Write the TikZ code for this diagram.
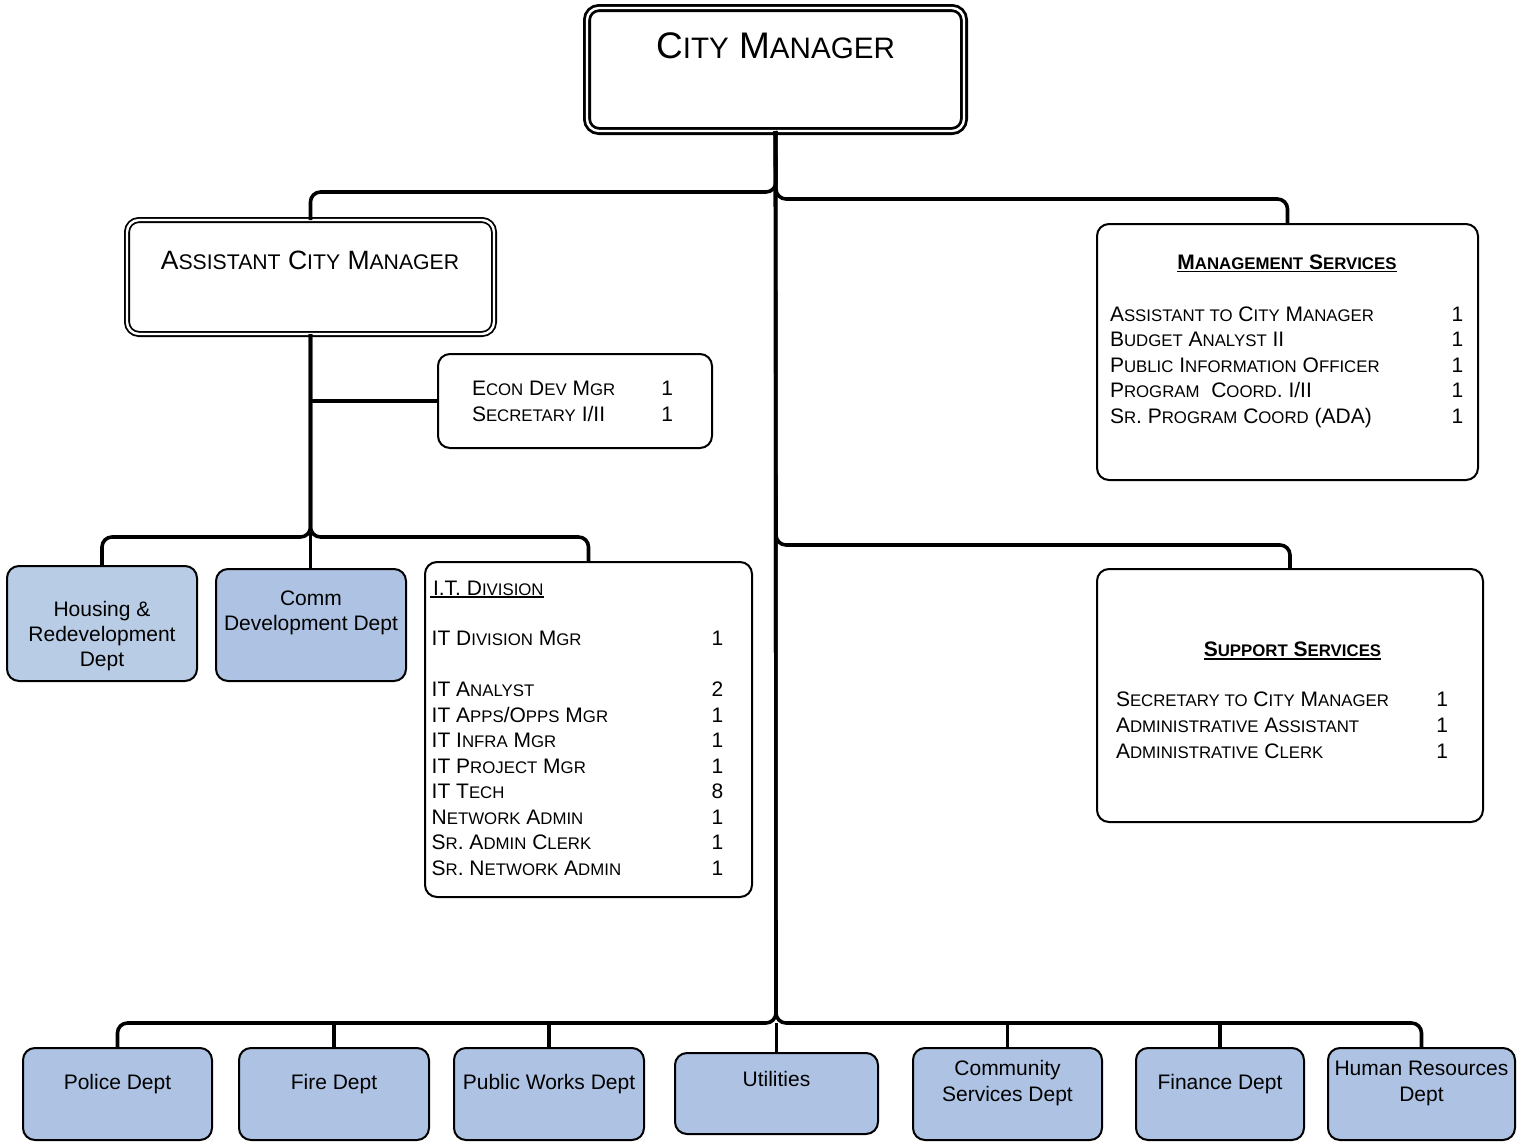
\documentclass[tikz,border=0pt]{standalone}
\usepackage{fontspec}
\setmainfont{Liberation Sans}
\usetikzlibrary{calc}

% fake small caps: lowercase letters set as smaller capitals
\makeatletter
\newcommand\smc[1]{{\fontsize{\fpeval{0.8*\f@size}}{\f@baselineskip}\selectfont\MakeUppercase{#1}}}
\makeatother
% underline with a firm rule
\newcommand\ul[1]{\setbox0\hbox{#1}\rlap{\rule[-2.8pt]{\wd0}{1.6pt}}\box0}
% two-column staff list: title left, count right
\newcommand\roster[2]{\begin{tabular*}{#1}[t]{@{}l@{\extracolsep{\fill}}r@{}}#2\end{tabular*}}
% centred multi-line label, baseline on its first line
\newcommand\lines[1]{\begin{tabular}[t]{@{}c@{}}#1\end{tabular}}

\definecolor{deptblue}{HTML}{AEC3E3}
\definecolor{deptlight}{HTML}{B9CCE5}

\tikzset{
  conn/.style={line width=3.6pt, rounded corners=10pt},
  box/.style={draw, line width=2pt, rounded corners=12pt, inner sep=0pt, outer sep=0pt, fill=white},
  dept/.style={box, fill=deptblue},
  headbox/.style={draw, double, line width=2.8pt, double distance=2.4pt, rounded corners=12pt, inner sep=0pt, outer sep=0pt},
  subheadbox/.style={draw, double, line width=1.8pt, double distance=2.4pt, rounded corners=12pt, inner sep=0pt, outer sep=0pt},
  txt/.style={inner sep=0pt, outer sep=0pt, font=\fontsize{21}{25.5}\selectfont},
}

\begin{document}
\begin{tikzpicture}[x=1pt, y=-1pt]
\useasboundingbox (0,0) rectangle (1527,1143);

% ---- executive boxes
\node[headbox, minimum width=377, minimum height=123] (cm) at (775.5,69.5) {};
\node[txt, font=\fontsize{37}{41}\selectfont, anchor=base] (cm-t) at (775.5,58) {C\smc{ity} M\smc{anager}};

\node[subheadbox, minimum width=367, minimum height=114] (acm) at (310.5,277) {};
\node[txt, font=\fontsize{26.5}{30}\selectfont, anchor=base] (acm-t) at (310,269.5) {A\smc{ssistant} C\smc{ity} M\smc{anager}};

% ---- economic development staff
\node[box, minimum width=274, minimum height=94] (econ) at (575,401) {};
\node[txt, font=\fontsize{21}{26.7}\selectfont, anchor=base west] (econ-t) at (472,395)
  {\roster{201pt}{E\smc{con} D\smc{ev} M\smc{gr} & 1\\ S\smc{ecretary} I/II & 1}};

% ---- management services
\node[box, minimum width=381, minimum height=256] (mgmt) at (1287.5,352) {};
\node[txt, anchor=base] (mgmt-h) at (1287,269.3) {\ul{\textbf{M\smc{anagement} S\smc{ervices}}}};
\node[txt, font=\fontsize{21}{25.6}\selectfont, anchor=base west] (mgmt-t) at (1110,321)
  {\roster{353.3pt}{%
    A\smc{ssistant to} C\smc{ity} M\smc{anager} & 1\\
    B\smc{udget} A\smc{nalyst} II & 1\\
    P\smc{ublic} I\smc{nformation} O\smc{fficer} & 1\\
    P\smc{rogram}\ \ C\smc{oord}. I/II & 1\\
    S\smc{r}. P\smc{rogram} C\smc{oord} (ADA) & 1}};

% ---- support services
\node[box, minimum width=386, minimum height=253] (supp) at (1290,695.5) {};
\node[txt, anchor=base] (supp-h) at (1292.5,656.7) {\ul{\textbf{S\smc{upport} S\smc{ervices}}}};
\node[txt, font=\fontsize{21}{26.1}\selectfont, anchor=base west] (supp-t) at (1116,706.7)
  {\roster{332pt}{%
    S\smc{ecretary to} C\smc{ity} M\smc{anager} & 1\\
    A\smc{dministrative} A\smc{ssistant} & 1\\
    A\smc{dministrative} C\smc{lerk} & 1}};

% ---- departments under the assistant city manager
\node[box, fill=deptlight, minimum width=190, minimum height=115] (housing) at (102,623.5) {};
\node[txt, font=\fontsize{21}{25}\selectfont, anchor=base] (housing-t) at (102,616.7)
  {\lines{Housing \&\\Redevelopment\\Dept}};

\node[dept, minimum width=190, minimum height=112] (comm) at (311,625) {};
\node[txt, font=\fontsize{21}{24.5}\selectfont, anchor=base] (comm-t) at (311,605.7)
  {\lines{Comm\\Development Dept}};

\node[box, minimum width=327, minimum height=335] (it) at (588.5,729.5) {};
\node[txt, anchor=base west] (it-h) at (430,595) {\ul{\hspace{3pt}I.T. D\smc{ivision}}};
\node[txt, font=\fontsize{21}{25.5}\selectfont, anchor=base west] (it-t) at (431.7,645.7)
  {\roster{291.6pt}{%
    IT D\smc{ivision} M\smc{gr} & 1\\
    & \\
    IT A\smc{nalyst} & 2\\
    IT A\smc{pps}/O\smc{pps} M\smc{gr} & 1\\
    IT I\smc{nfra} M\smc{gr} & 1\\
    IT P\smc{roject} M\smc{gr} & 1\\
    IT T\smc{ech} & 8\\
    N\smc{etwork} A\smc{dmin} & 1\\
    S\smc{r}. A\smc{dmin} C\smc{lerk} & 1\\
    S\smc{r}. N\smc{etwork} A\smc{dmin} & 1}};

% ---- operating departments
\node[dept, minimum width=189, minimum height=92] (police) at (117.5,1094) {};
\node[txt, anchor=base] (police-t) at (117.5,1089) {Police Dept};
\node[dept, minimum width=190, minimum height=92] (fire) at (334,1094) {};
\node[txt, anchor=base] (fire-t) at (334,1089) {Fire Dept};
\node[dept, minimum width=190, minimum height=92] (pw) at (549,1094) {};
\node[txt, anchor=base] (pw-t) at (549,1089) {Public Works Dept};
\node[dept, minimum width=203, minimum height=81] (util) at (776.5,1093.5) {};
\node[txt, anchor=base] (util-t) at (776.5,1086.7) {Utilities};
\node[dept, minimum width=189, minimum height=92] (csd) at (1007.5,1094) {};
\node[txt, font=\fontsize{21}{26}\selectfont, anchor=base] (csd-t) at (1007.5,1075.7)
  {\lines{Community\\Services Dept}};
\node[dept, minimum width=168, minimum height=92] (fin) at (1220,1094) {};
\node[txt, anchor=base] (fin-t) at (1220,1089) {Finance Dept};
\node[dept, minimum width=187, minimum height=92] (hr) at (1421.5,1094) {};
\node[txt, font=\fontsize{21}{26.5}\selectfont, anchor=base] (hr-t) at (1421.5,1075)
  {\lines{Human Resources\\Dept}};

% ---- junction points on the trunks
\coordinate (j-acm) at (776,192);
\coordinate (j-ms) at (776,199);
\coordinate (j-ss) at (776,545);
\coordinate (bus) at (776,1023);
\coordinate (j-low) at (310.5,537);

% ---- connectors from the city manager
\draw[conn] (cm.south) -- (j-acm) -| (acm.north);
\draw[conn] (cm.south) -- (j-ms) -| (mgmt.north);
\draw[conn] (cm.south) -- (j-ss) -| (supp.north);
\draw[conn] (cm.south) -- (bus) -| (police.north);
\draw[conn] (cm.south) -- (bus) -| (hr.north);
\draw[conn] (fire.north |- bus) -- (fire.north);
\draw[conn] (pw.north |- bus) -- (pw.north);
\draw[conn] (util.north |- bus) -- (util.north);
\draw[conn] (csd.north |- bus) -- (csd.north);
\draw[conn] (fin.north |- bus) -- (fin.north);

% ---- connectors from the assistant city manager
\draw[conn, sharp corners] (acm.south) -- (acm.south |- econ.west) -- (econ.west);
\draw[conn] (acm.south) -- (j-low) -| (housing.north);
\draw[conn] (acm.south) -- (j-low) -| (it.north);
\draw[conn] (acm.south) -- (acm.south |- comm.north);
\end{tikzpicture}
\end{document}
